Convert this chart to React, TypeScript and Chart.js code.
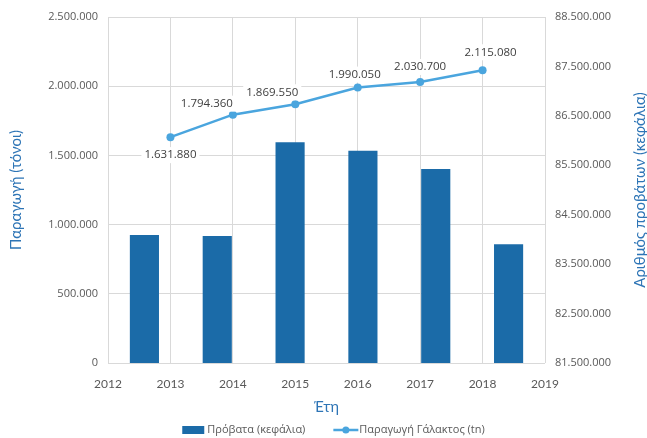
import React, { useEffect, useRef } from "react";
import { Chart, registerables } from "chart.js";

Chart.register(...registerables);

// ---- data ----
const years = [2013, 2014, 2015, 2016, 2017, 2018];
const sheepHeads = [84090000, 84070000, 85965000, 85795000, 85425000, 83900000];
const milkTonnes = [1631880, 1794360, 1869550, 1990050, 2030700, 2115080];

const X_MIN = 2012;
const X_MAX = 2019;
const LEFT_MIN = 0;
const LEFT_MAX = 2500000;
const LEFT_STEP = 500000;
const RIGHT_MIN = 81500000;
const RIGHT_MAX = 88500000;
const RIGHT_STEP = 1000000;

const barLabel = "Πρόβατα (κεφάλια)";
const lineLabel = "Παραγωγή Γάλακτος (tn)";
const leftTitle = "Παραγωγή (τόνοι)";
const rightTitle = "Αριθμός προβάτων (κεφάλια)";
const xTitle = "Έτη";

// label nudges (style only)
const labelDx = [0, -26, -23, -3, 0, 8];
const labelDy = [18, -11, -12, -13, -15, -18];

const BAR_COLOR = "#1B6BA8";
const LINE_COLOR = "#4AA5DE";
const TITLE_COLOR = "#2E75B6";
const TICK_COLOR = "#595959";
const GRID_COLOR = "#D9D9D9";

const fmt = (v: number) =>
  Math.round(v).toString().replace(/\B(?=(\d{3})+(?!\d))/g, ".");

const dataLabelPlugin = {
  id: "dataLabels",
  afterDatasetsDraw(chart: any) {
    const meta = chart.getDatasetMeta(1);
    const ctx = chart.ctx;
    ctx.save();
    ctx.font = "11.5px 'Open Sans'";
    ctx.textAlign = "center";
    ctx.textBaseline = "middle";
    meta.data.forEach((pt: any, i: number) => {
      const txt = fmt(milkTonnes[i]);
      const x = pt.x + labelDx[i];
      const y = pt.y + labelDy[i];
      const w = ctx.measureText(txt).width;
      ctx.fillStyle = "#FFFFFF";
      ctx.fillRect(x - w / 2 - 3, y - 8, w + 6, 16);
      ctx.fillStyle = "#404040";
      ctx.fillText(txt, x, y);
    });
    ctx.restore();
  },
};

const extrasPlugin = {
  id: "extras",
  afterDraw(chart: any) {
    const ctx = chart.ctx;
    const area = chart.chartArea;
    // right axis title (reads bottom-to-top)
    const y1 = chart.scales.y1;
    ctx.save();
    ctx.translate(y1.right - 7, (area.top + area.bottom) / 2);
    ctx.rotate(-Math.PI / 2);
    ctx.font = "15px Lato";
    ctx.fillStyle = TITLE_COLOR;
    ctx.textAlign = "center";
    ctx.textBaseline = "middle";
    ctx.fillText(rightTitle, 0, 0);
    ctx.restore();

    // legend
    ctx.save();
    ctx.font = "11px 'Open Sans'";
    ctx.textBaseline = "middle";
    ctx.textAlign = "left";
    const w1 = ctx.measureText(barLabel).width;
    const w2 = ctx.measureText(lineLabel).width;
    const total = 22 + 3 + w1 + 28 + 25 + 1 + w2;
    const cx = (area.left + area.right) / 2 + 7;
    let x = cx - total / 2;
    const y = 430;
    ctx.fillStyle = BAR_COLOR;
    ctx.fillRect(x, y - 4, 22, 8);
    x += 25;
    ctx.fillStyle = TICK_COLOR;
    ctx.fillText(barLabel, x, y);
    x += w1 + 28;
    ctx.strokeStyle = LINE_COLOR;
    ctx.lineWidth = 2.5;
    ctx.beginPath();
    ctx.moveTo(x, y);
    ctx.lineTo(x + 25, y);
    ctx.stroke();
    ctx.fillStyle = LINE_COLOR;
    ctx.beginPath();
    ctx.arc(x + 12.5, y, 3.5, 0, Math.PI * 2);
    ctx.fill();
    x += 26;
    ctx.fillStyle = TICK_COLOR;
    ctx.fillText(lineLabel, x, y);
    ctx.restore();
  },
};

export default function App() {
  const ref = useRef<HTMLCanvasElement>(null);
  useEffect(() => {
    if (!ref.current) return;
    const chart = new Chart(ref.current, {
      type: "bar",
      data: {
        labels: years.map(String),
        datasets: [
          {
            type: "bar",
            label: barLabel,
            data: sheepHeads,
            backgroundColor: BAR_COLOR,
            borderWidth: 0,
            xAxisID: "x",
            yAxisID: "y1",
            barPercentage: 0.4,
            categoryPercentage: 1,
            grouped: false,
            order: 2,
          } as any,
          {
            type: "line",
            label: lineLabel,
            data: years.map((yr, i) => ({ x: yr, y: milkTonnes[i] })),
            borderColor: LINE_COLOR,
            backgroundColor: LINE_COLOR,
            borderWidth: 2.5,
            pointRadius: 4,
            pointHoverRadius: 4,
            pointBorderWidth: 0,
            tension: 0,
            grouped: false,
            xAxisID: "x2",
            yAxisID: "y",
            order: 1,
          } as any,
        ],
      },
      options: {
        responsive: false,
        animation: false,
        events: [],
        layout: { padding: { top: 17, bottom: 22, left: 0, right: 0 } },
        plugins: {
          legend: { display: false },
          tooltip: { enabled: false },
        },
        scales: {
          x: {
            type: "category",
            display: false,
            offset: true,
            grid: { display: false },
          },
          x2: {
            type: "linear",
            position: "bottom",
            min: X_MIN,
            max: X_MAX,
            offset: false,
            afterFit: (s: any) => {
              s.height = 53;
            },
            ticks: {
              stepSize: 1,
              padding: 14,
              color: TICK_COLOR,
              font: { family: "Lato", size: 12 },
              callback: (v: any) => String(v),
            },
            grid: { color: GRID_COLOR, drawTicks: false, offset: false },
            border: { display: false },
            title: {
              display: true,
              text: xTitle,
              color: TITLE_COLOR,
              font: { family: "Lato", size: 15 },
              padding: 0,
            },
          },
          y: {
            type: "linear",
            position: "left",
            min: LEFT_MIN,
            max: LEFT_MAX,
            afterFit: (s: any) => {
              s.width = 108;
            },
            ticks: {
              stepSize: LEFT_STEP,
              padding: 10,
              color: TICK_COLOR,
              font: { family: "Open Sans", size: 11 },
              callback: (v: any) => fmt(Number(v)),
            },
            grid: { color: GRID_COLOR, drawTicks: false },
            border: { display: false },
            title: {
              display: true,
              text: leftTitle,
              color: TITLE_COLOR,
              font: { family: "Lato", size: 15 },
              padding: { top: 7, bottom: 0 },
            },
          },
          y1: {
            type: "linear",
            position: "right",
            min: RIGHT_MIN,
            max: RIGHT_MAX,
            afterFit: (s: any) => {
              s.width = 102;
            },
            ticks: {
              stepSize: RIGHT_STEP,
              padding: 10,
              color: TICK_COLOR,
              font: { family: "Open Sans", size: 11 },
              callback: (v: any) => fmt(Number(v)),
            },
            grid: { display: false, drawTicks: false },
            border: { display: false },
          },
        },
      } as any,
      plugins: [dataLabelPlugin, extrasPlugin],
    });
    return () => chart.destroy();
  }, []);
  return (
    <div style={{ position: "absolute", left: 0, top: 0, width: 647, height: 438, background: "#fff" }}>
      <canvas ref={ref} width={647} height={438} />
    </div>
  );
}
